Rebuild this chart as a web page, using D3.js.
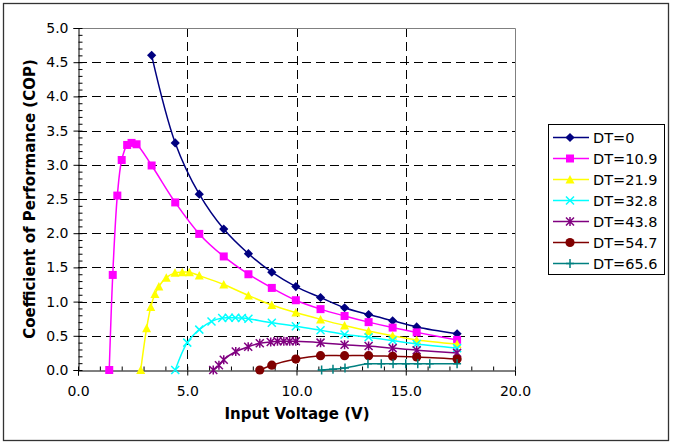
<!DOCTYPE html>
<html><head><meta charset="utf-8">
<script src="https://cdn.jsdelivr.net/npm/d3@7"></script>
<style>body{margin:0;background:#fff}svg{display:block}text{font-family:"DejaVu Sans",Verdana,sans-serif}</style>
</head><body><svg id="c" width="676" height="444"></svg>
<script>
const seriesNames = ["DT=0","DT=10.9","DT=21.9","DT=32.8","DT=43.8","DT=54.7","DT=65.6"];
const seriesColors = ["#000080","#FF00FF","#FFFF00","#00FFFF","#800080","#800000","#008080"];
const seriesMarkers = ["diamond","square","triangle","x","star","circle","plus"];

const dt0 = [[3.37,4.6],[4.45,3.32],[5.55,2.57],[6.67,2.06],[7.8,1.70],[8.87,1.43],[9.97,1.22],[11.1,1.06],[12.2,0.91],[13.3,0.81],[14.4,0.72],[15.5,0.63],[17.35,0.53]];
const dt109 = [[1.43,0],[1.59,1.39],[1.8,2.55],[2.0,3.07],[2.25,3.29],[2.45,3.32],[2.68,3.30],[3.37,2.99],[4.45,2.45],[5.55,1.99],[6.67,1.66],[7.8,1.40],[8.87,1.20],[9.97,1.02],[11.1,0.89],[12.2,0.79],[13.3,0.70],[14.4,0.62],[15.5,0.55],[17.35,0.44]];
const dt219 = [[2.87,0],[3.14,0.61],[3.33,0.92],[3.52,1.11],[3.7,1.22],[4.04,1.35],[4.44,1.42],[4.77,1.43],[5.1,1.43],[5.55,1.38],[6.67,1.25],[7.8,1.09],[8.87,0.95],[9.97,0.84],[11.1,0.74],[12.2,0.65],[13.3,0.57],[14.4,0.50],[15.5,0.44],[17.35,0.38]];
const dt328 = [[4.45,0],[5.0,0.40],[5.55,0.59],[6.11,0.71],[6.6,0.76],[6.9,0.765],[7.2,0.765],[7.5,0.76],[7.8,0.75],[8.87,0.69],[9.97,0.64],[11.1,0.58],[12.2,0.52],[13.3,0.48],[14.4,0.43],[15.5,0.38],[17.35,0.32]];
const dt438 = [[6.19,0],[6.45,0.07],[6.67,0.15],[7.22,0.27],[7.79,0.34],[8.32,0.39],[8.82,0.41],[9.13,0.42],[9.42,0.42],[9.69,0.42],[9.97,0.42],[11.1,0.40],[12.2,0.37],[13.3,0.35],[14.4,0.32],[15.5,0.29],[17.35,0.25]];
const dt547 = [[8.32,0],[8.87,0.07],[9.97,0.16],[11.1,0.21],[12.2,0.21],[13.3,0.21],[14.4,0.20],[15.5,0.19],[17.35,0.16]];
const dt656 = [[11.15,0],[11.67,0.01],[12.22,0.03],[13.27,0.09],[13.88,0.09],[14.42,0.09],[15.0,0.09],[15.55,0.09],[16.1,0.09],[17.35,0.09]];
const seriesData = [dt0,dt109,dt219,dt328,dt438,dt547,dt656];

const xTicks = [0,5,10,15,20];
const yTicks = [0,0.5,1,1.5,2,2.5,3,3.5,4,4.5,5];
const xMinor = d3.range(0,20.01,1);
const yMinor = d3.range(0,5.001,0.1);

const svg = d3.select("#c");
const L=78,R=515,T=28,B=370;
const x = d3.scaleLinear().domain([0,20]).range([L,R]);
const y = d3.scaleLinear().domain([0,5]).range([B,T]);

svg.append("rect").attr("x",3.5).attr("y",3.5).attr("width",665).attr("height",437)
  .attr("fill","#fff").attr("stroke","#333").attr("stroke-width",1.3);

// grid
const g = svg.append("g");
g.selectAll("line.hg").data(yTicks.filter(v=>v>0&&v<5)).join("line")
  .attr("x1",L).attr("x2",R).attr("y1",d=>Math.round(y(d))+0.5).attr("y2",d=>Math.round(y(d))+0.5)
  .attr("stroke","#000").attr("stroke-dasharray","9,5");
g.selectAll("line.vg").data(xTicks.filter(v=>v>0&&v<20)).join("line")
  .attr("y1",T).attr("y2",B).attr("x1",d=>Math.round(x(d))+0.5).attr("x2",d=>Math.round(x(d))+0.5)
  .attr("stroke","#000").attr("stroke-dasharray","9,5");
// plot border top/right
svg.append("path").attr("d",`M${L},${T+0.5}H${R+0.5}V${B}`).attr("fill","none").attr("stroke","#808080");

// axes
const xa = svg.append("g").attr("transform",`translate(0,${B+0.5})`)
  .call(d3.axisBottom(x).tickValues(xTicks).tickSize(5).tickPadding(11).tickFormat(d3.format(".1f")));
const xm = svg.append("g").attr("transform",`translate(0,${B+0.5})`)
  .call(d3.axisTop(x).tickValues(xMinor).tickSize(4).tickFormat(""));
const ya = svg.append("g").attr("transform",`translate(${L+0.5},0)`)
  .call(d3.axisLeft(y).tickValues(yTicks).tickSize(5).tickPadding(5).tickFormat(d3.format(".1f")));
const ym = svg.append("g").attr("transform",`translate(${L+0.5},0)`)
  .call(d3.axisRight(y).tickValues(yMinor).tickSize(4).tickFormat(""));
[xa,xm,ya,ym].forEach(a=>{a.select(".domain").attr("stroke","#000");a.selectAll("line").attr("stroke","#000");
  a.selectAll("text").attr("font-size",14).attr("fill","#000").style("font-family","'DejaVu Sans',Verdana,sans-serif");});
xm.select(".domain").remove(); ym.select(".domain").remove();

svg.append("text").attr("x",297).attr("y",419).attr("text-anchor","middle")
  .attr("font-size",15).attr("font-weight","bold").text("Input Voltage (V)");
svg.append("text").attr("transform","translate(35,199) rotate(-90)").attr("text-anchor","middle")
  .attr("font-size",15).attr("font-weight","bold").text("Coefficient of Performance (COP)");

function marker(sel, type, color){
  if(type==="diamond") sel.append("path").attr("d","M0,-4.6L4.6,0L0,4.6L-4.6,0Z").attr("fill",color);
  else if(type==="square") sel.append("rect").attr("x",-4).attr("y",-4).attr("width",8).attr("height",8).attr("fill",color);
  else if(type==="triangle") sel.append("path").attr("d","M0,-4.5L4.5,4L-4.5,4Z").attr("fill",color);
  else if(type==="x") sel.append("path").attr("d","M-4,-4L4,4M-4,4L4,-4").attr("stroke",color).attr("stroke-width",1.5);
  else if(type==="star") sel.append("path").attr("d","M-4,-4L4,4M-4,4L4,-4M0,-4.5L0,4.5").attr("stroke",color).attr("stroke-width",1.5);
  else if(type==="circle") sel.append("circle").attr("r",4.6).attr("fill",color);
  else if(type==="plus") sel.append("path").attr("d","M0,-4.5L0,4.5M-4,0L4,0").attr("stroke",color).attr("stroke-width",1.5);
}

const line = d3.line().x(d=>x(d[0])).y(d=>y(d[1])).curve(d3.curveCatmullRom.alpha(0.5));
seriesData.forEach((data,i)=>{
  const sg = svg.append("g");
  sg.append("path").datum(data).attr("d",line).attr("fill","none").attr("stroke",seriesColors[i]).attr("stroke-width",1.5);
  sg.selectAll("g.m").data(data).join("g").attr("transform",d=>`translate(${x(d[0])},${y(d[1])})`)
    .each(function(){marker(d3.select(this),seriesMarkers[i],seriesColors[i]);});
});

// legend
const lg = svg.append("g");
lg.append("rect").attr("x",548.5).attr("y",124.5).attr("width",116).attr("height",150).attr("fill","#fff").attr("stroke","#000");
seriesNames.forEach((n,i)=>{
  const yy = 137.5 + i*21;
  lg.append("line").attr("x1",553).attr("x2",589).attr("y1",yy).attr("y2",yy).attr("stroke",seriesColors[i]).attr("stroke-width",1.5);
  const m = lg.append("g").attr("transform",`translate(570,${yy})`);
  marker(m, seriesMarkers[i], seriesColors[i]);
  lg.append("text").attr("x",593).attr("y",yy).attr("dy","0.36em").attr("font-size",14.5).text(n);
});
</script></body></html>
